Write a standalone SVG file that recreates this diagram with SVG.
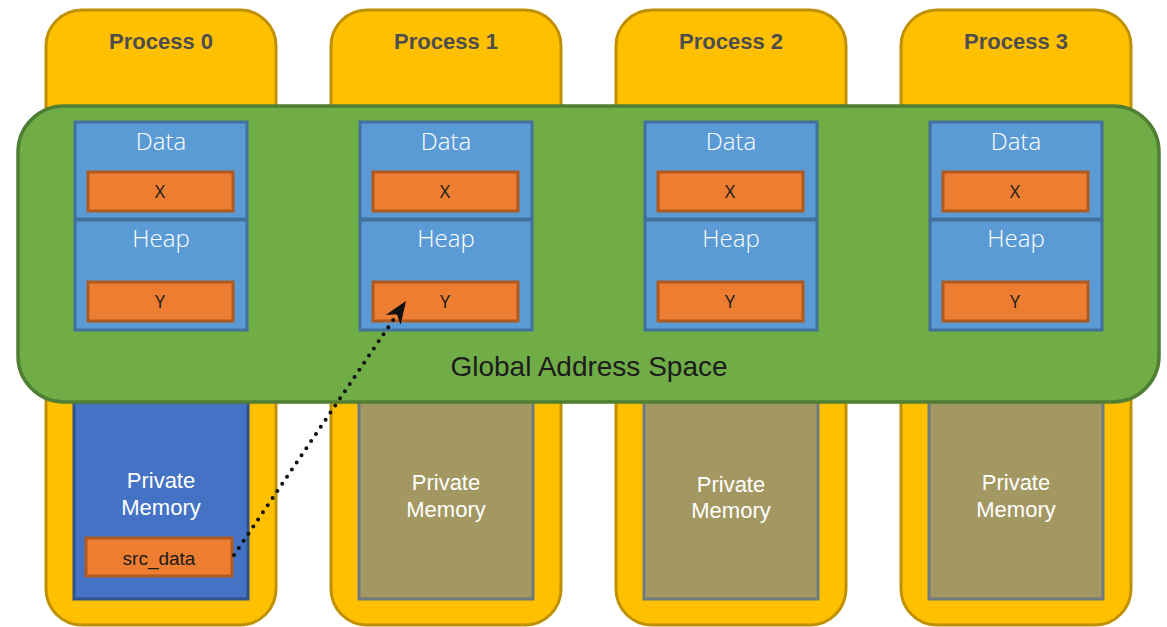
<svg xmlns="http://www.w3.org/2000/svg" width="1167" height="627" viewBox="0 0 1167 627">
  <defs>
    <style>
      .proc { fill: #FFC000; stroke: #BF9000; stroke-width: 3; }
      .title { font-family: "Liberation Sans", Arial, sans-serif; font-weight: bold; font-size: 22px; fill: #4D4D4D; text-anchor: middle; }
      .priv-own { fill: #4472C4; stroke: #2F528F; stroke-width: 3; }
      .priv { fill: #A39862; stroke: #6E7A80; stroke-width: 3; }
      .priv-text { font-family: "Liberation Sans", Arial, sans-serif; font-size: 22px; fill: #FFFFFF; text-anchor: middle; }
      .global { fill: #70AD47; stroke: #507E32; stroke-width: 3.5; }
      .global-text { font-family: "Liberation Sans", Arial, sans-serif; font-size: 28px; fill: #1C1C1C; text-anchor: middle; }
      .seg { fill: #5B9BD5; stroke: #41719C; stroke-width: 3; }
      .seg-text { font-family: "Open Sans", "DejaVu Sans", sans-serif; font-weight: 300; font-size: 24px; fill: #FFFFFF; text-anchor: middle; }
      .var { fill: #ED7D31; stroke: #AE5A21; stroke-width: 3; }
      .var-text { font-family: "Open Sans", "DejaVu Sans", sans-serif; font-size: 18px; fill: #1A1A1A; text-anchor: middle; }
      .src-text { font-family: "Liberation Sans", Arial, sans-serif; font-size: 19px; fill: #1A1A1A; text-anchor: middle; }
      .link { fill: none; stroke: #111111; stroke-width: 4; stroke-linecap: round; stroke-dasharray: 0 8.6; }
    </style>
    <marker id="stealth" markerUnits="userSpaceOnUse" viewBox="-24 -10 26 20" refX="0" refY="0" markerWidth="26" markerHeight="20" orient="auto">
      <path d="M0,0 L-23,-9 L-16,0 L-23,9 Z" fill="#111111"/>
    </marker>
  </defs>

  <!-- process columns with their private memory -->
  <g id="process-0">
    <rect class="proc" x="46" y="10" width="230" height="615" rx="36"/>
    <text class="title" x="161" y="49">Process 0</text>
    <rect class="priv-own" x="74" y="390" width="174" height="209"/>
    <text class="priv-text" x="161" y="488">Private</text>
    <text class="priv-text" x="161" y="515">Memory</text>
    <rect class="var" x="86" y="538" width="146" height="38"/>
    <text class="src-text" x="159" y="565">src_data</text>
  </g>
  <g id="process-1">
    <rect class="proc" x="331" y="10" width="230" height="615" rx="36"/>
    <text class="title" x="446" y="49">Process 1</text>
    <rect class="priv" x="359" y="390" width="174" height="209"/>
    <text class="priv-text" x="446" y="490">Private</text>
    <text class="priv-text" x="446" y="517">Memory</text>
  </g>
  <g id="process-2">
    <rect class="proc" x="616" y="10" width="230" height="615" rx="36"/>
    <text class="title" x="731" y="49">Process 2</text>
    <rect class="priv" x="644" y="390" width="174" height="209"/>
    <text class="priv-text" x="731" y="492">Private</text>
    <text class="priv-text" x="731" y="518">Memory</text>
  </g>
  <g id="process-3">
    <rect class="proc" x="901" y="10" width="230" height="615" rx="36"/>
    <text class="title" x="1016" y="49">Process 3</text>
    <rect class="priv" x="929" y="390" width="174" height="209"/>
    <text class="priv-text" x="1016" y="490">Private</text>
    <text class="priv-text" x="1016" y="517">Memory</text>
  </g>

  <!-- shared band -->
  <g id="global-address-space">
    <rect class="global" x="18" y="106" width="1141" height="296" rx="46"/>
    <text class="global-text" x="589" y="376">Global Address Space</text>
  </g>

  <!-- data / heap segments per process -->
  <g id="segments-0">
    <rect class="seg" x="75" y="122" width="172" height="97"/>
    <rect class="seg" x="75" y="220" width="172" height="110"/>
    <text class="seg-text" x="161" y="150">Data</text>
    <text class="seg-text" x="161" y="247">Heap</text>
    <rect class="var" x="88" y="172" width="145" height="39"/>
    <text class="var-text" x="160" y="198">X</text>
    <rect class="var" x="88" y="282" width="145" height="39"/>
    <text class="var-text" x="160" y="308">Y</text>
  </g>
  <g id="segments-1">
    <rect class="seg" x="360" y="122" width="172" height="97"/>
    <rect class="seg" x="360" y="220" width="172" height="110"/>
    <text class="seg-text" x="446" y="150">Data</text>
    <text class="seg-text" x="446" y="247">Heap</text>
    <rect class="var" x="373" y="172" width="145" height="39"/>
    <text class="var-text" x="445" y="198">X</text>
    <rect class="var" x="373" y="282" width="145" height="39"/>
    <text class="var-text" x="445" y="308">Y</text>
  </g>
  <g id="segments-2">
    <rect class="seg" x="645" y="122" width="172" height="97"/>
    <rect class="seg" x="645" y="220" width="172" height="110"/>
    <text class="seg-text" x="731" y="150">Data</text>
    <text class="seg-text" x="731" y="247">Heap</text>
    <rect class="var" x="658" y="172" width="145" height="39"/>
    <text class="var-text" x="730" y="198">X</text>
    <rect class="var" x="658" y="282" width="145" height="39"/>
    <text class="var-text" x="730" y="308">Y</text>
  </g>
  <g id="segments-3">
    <rect class="seg" x="930" y="122" width="172" height="97"/>
    <rect class="seg" x="930" y="220" width="172" height="110"/>
    <text class="seg-text" x="1016" y="150">Data</text>
    <text class="seg-text" x="1016" y="247">Heap</text>
    <rect class="var" x="943" y="172" width="145" height="39"/>
    <text class="var-text" x="1015" y="198">X</text>
    <rect class="var" x="943" y="282" width="145" height="39"/>
    <text class="var-text" x="1015" y="308">Y</text>
  </g>

  <!-- remote write: src_data on process 0 to Y on process 1 -->
  <g id="connectors">
    <line class="link" x1="234" y1="555" x2="406" y2="301" marker-end="url(#stealth)"/>
  </g>
</svg>
